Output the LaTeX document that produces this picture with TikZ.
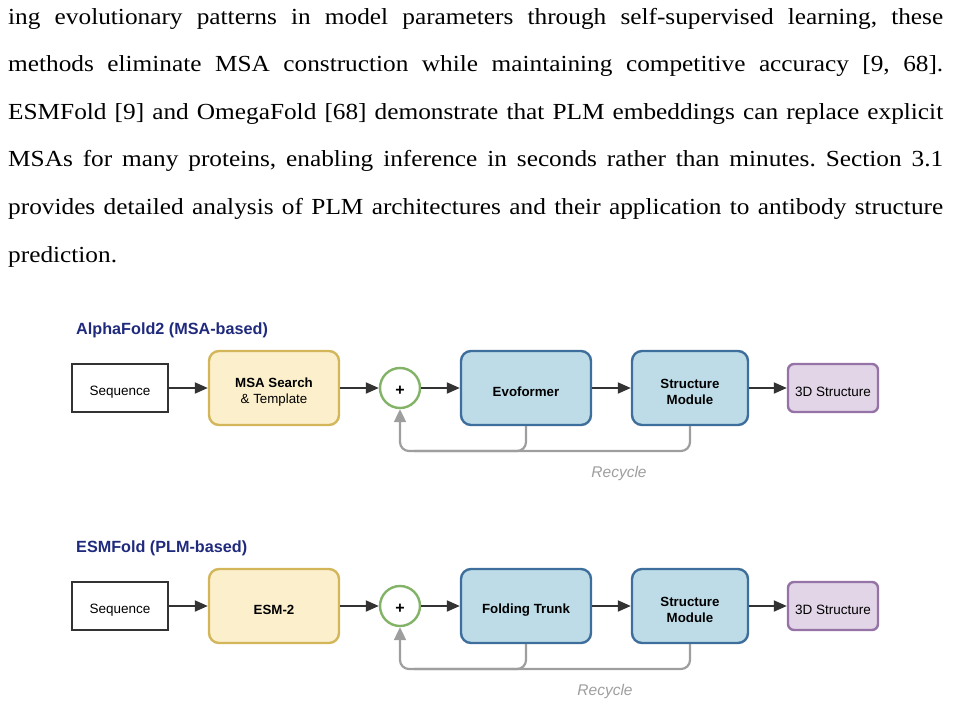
\documentclass[tikz,border=0pt]{standalone}
\usepackage{fontspec}
\setmainfont{Liberation Serif}
\setsansfont{Liberation Sans}
\newfontfamily\bodyfont[FakeStretch=1.10]{Liberation Serif}
\usetikzlibrary{arrows.meta}
\frenchspacing
\definecolor{titleblue}{RGB}{32,42,125}
\definecolor{yfill}{RGB}{251,239,204}
\definecolor{ydraw}{RGB}{212,182,90}
\definecolor{bfill}{RGB}{189,220,232}
\definecolor{bdraw}{RGB}{62,110,155}
\definecolor{pfill}{RGB}{225,213,231}
\definecolor{pdraw}{RGB}{150,115,166}
\definecolor{gdraw}{RGB}{130,179,102}
\definecolor{arrowc}{RGB}{51,51,51}
\definecolor{recyc}{RGB}{158,158,158}
\newcommand{\tdn}{\rule{0pt}{17.5pt}}
\tikzset{
  every node/.style={font=\sffamily},
  bodyline/.style={anchor=base west, inner sep=0pt, font=\bodyfont\fontsize{23}{26}\selectfont},
  ttl/.style={anchor=west, inner sep=0pt, text=titleblue, font=\sffamily\bfseries\fontsize{16.2}{19}\selectfont},
  seqbox/.style={draw=arrowc, line width=2.4pt, fill=white, minimum width=96pt, minimum height=48pt, inner sep=0pt, font=\sffamily\fontsize{13.5}{16}\selectfont},
  ybox/.style={draw=ydraw, line width=2.4pt, fill=yfill, rounded corners=10pt, minimum width=130pt, minimum height=74pt, inner sep=0pt, align=center, font=\sffamily\fontsize{13.3}{16}\selectfont},
  bbox/.style={draw=bdraw, line width=2.4pt, fill=bfill, rounded corners=10pt, minimum height=74pt, inner sep=0pt, align=center, font=\sffamily\bfseries\fontsize{13.3}{16}\selectfont},
  pbox/.style={draw=pdraw, line width=2.4pt, fill=pfill, rounded corners=6pt, minimum width=90pt, minimum height=48pt, inner sep=0pt, font=\sffamily\fontsize{13.5}{16}\selectfont},
  plusnode/.style={circle, draw=gdraw, line width=2.4pt, fill=white, minimum size=40pt, inner sep=0pt, font=\sffamily\bfseries\fontsize{16}{18}\selectfont},
  arr/.style={draw=arrowc, line width=2pt, -{Triangle[length=13pt,width=11pt]}},
  recline/.style={draw=recyc, line width=2.2pt, rounded corners=9pt},
  recarr/.style={recline, -{Triangle[length=13pt,width=12pt]}},
  reclabel/.style={text=recyc, font=\sffamily\itshape\fontsize{15.5}{18}\selectfont}
}
\begin{document}
\begin{tikzpicture}[x=1pt,y=-1pt]
\useasboundingbox (0,0) rectangle (953,707);
% body text
\node[bodyline] (l1) at (8,24) {\makebox[935pt][s]{ing evolutionary patterns in model parameters through self-supervised learning, these}};
\node[bodyline] (l2) at (8,71.6) {\makebox[935pt][s]{methods eliminate MSA construction while maintaining competitive accuracy [9, 68].}};
\node[bodyline] (l3) at (8,119.2) {\makebox[935pt][s]{ESMFold [9] and OmegaFold [68] demonstrate that PLM embeddings can replace explicit}};
\node[bodyline] (l4) at (8,166.8) {\makebox[935pt][s]{MSAs for many proteins, enabling inference in seconds rather than minutes. Section 3.1}};
\node[bodyline] (l5) at (8,214.4) {\makebox[935pt][s]{provides detailed analysis of PLM architectures and their application to antibody structure}};
\node[bodyline] (l6) at (8,262) {prediction.};

% AlphaFold2 row
\node[ttl] (t1) at (76,330) {AlphaFold2 (MSA-based)};
\node[seqbox] (seq1) at (120,388) {\tdn Sequence};
\node[ybox] (msa1) at (274,388) {\tdn\textbf{MSA Search}\\\& Template};
\node[plusnode] (plus1) at (400,388) {\rule{0pt}{14pt}+};
\node[bbox, minimum width=130pt] (evo1) at (526,388) {\tdn Evoformer};
\node[bbox, minimum width=116pt] (sm1) at (690,388) {\tdn Structure\\Module};
\node[pbox] (out1) at (833,388) {\tdn 3D Structure};
\draw[arr] (seq1) -- (msa1);
\draw[arr] (msa1) -- (plus1);
\draw[arr] (plus1) -- (evo1);
\draw[arr] (evo1) -- (sm1);
\draw[arr] (sm1) -- (out1);
\coordinate (r1) at (0,451);
\draw[recline] (evo1.south) -- (evo1.south |- r1) -- ([xshift=14pt]plus1.south |- r1);
\draw[recarr] (sm1.south) -- (sm1.south |- r1) -- (plus1.south |- r1) -- (plus1.south);
\node[reclabel] (rl1) at (619,473) {Recycle};

% ESMFold row
\node[ttl] (t2) at (76,548) {ESMFold (PLM-based)};
\node[seqbox] (seq2) at (120,606) {\tdn Sequence};
\node[ybox, font=\sffamily\bfseries\fontsize{13.3}{16}\selectfont] (esm2) at (274,606) {\tdn ESM-2};
\node[plusnode] (plus2) at (400,606) {\rule{0pt}{14pt}+};
\node[bbox, minimum width=130pt] (evo2) at (526,606) {\tdn Folding Trunk};
\node[bbox, minimum width=116pt] (sm2) at (690,606) {\tdn Structure\\Module};
\node[pbox] (out2) at (833,606) {\tdn 3D Structure};
\draw[arr] (seq2) -- (esm2);
\draw[arr] (esm2) -- (plus2);
\draw[arr] (plus2) -- (evo2);
\draw[arr] (evo2) -- (sm2);
\draw[arr] (sm2) -- (out2);
\coordinate (r2) at (0,669);
\draw[recline] (evo2.south) -- (evo2.south |- r2) -- ([xshift=14pt]plus2.south |- r2);
\draw[recarr] (sm2.south) -- (sm2.south |- r2) -- (plus2.south |- r2) -- (plus2.south);
\node[reclabel] (rl2) at (605,691) {Recycle};
\end{tikzpicture}
\end{document}
